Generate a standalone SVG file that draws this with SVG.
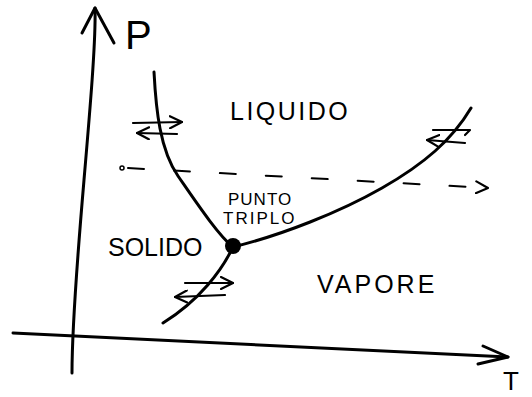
<svg xmlns="http://www.w3.org/2000/svg" width="532" height="397" viewBox="0 0 532 397">
<defs>
<style>
.ln{fill:none;stroke:#000;stroke-width:3;stroke-linecap:round;stroke-linejoin:round}
.th{fill:none;stroke:#000;stroke-width:2.2;stroke-linecap:round;stroke-linejoin:round}
.ds{fill:none;stroke:#000;stroke-width:2;stroke-dasharray:16 30;stroke-linecap:round}
.lb{font-family:"Liberation Sans",Arial,sans-serif;fill:#000}
</style>
<marker id="ah" viewBox="0 0 14 14" refX="13" refY="7" markerWidth="14" markerHeight="14" markerUnits="userSpaceOnUse" orient="auto">
<path d="M1,1 L13,7 L1,13" fill="none" stroke="#000" stroke-width="2.2" stroke-linecap="round" stroke-linejoin="round"/>
</marker>
</defs>
<rect width="532" height="397" fill="#fff"/>
<g id="axes">
<path class="ln" d="M72,373 C72,330 78,250 84,180 S96,40 95,8"/>
<path class="ln" d="M82,33 L95,8 L114,43"/>
<path class="ln" d="M13,333 C120,338 300,348 508,357"/>
<path class="ln" d="M483,346 L508,357 L478,364"/>
</g>
<g id="connectors">
<path id="fusion" class="ln" d="M154,72 C156,110 160,150 178,176 S218,235 233,247"/>
<path id="sublimation" class="ln" d="M233,247 C222,270 200,300 163,323"/>
<path id="vaporization" class="ln" d="M233,247 C282,235 340,212 382,188 S452,140 471,108"/>
<path id="isobar" class="ds" d="M128,168 L488,188" marker-end="url(#ah)"/>
<circle cx="122" cy="168" r="2" fill="none" stroke="#000" stroke-width="1.5"/>
</g>
<g id="eq-left">
<path class="th" d="M133,123 L182,122" marker-end="url(#ah)"/>
<path class="th" d="M177,134 L137,133" marker-end="url(#ah)"/>
</g>
<g id="eq-right">
<path class="th" d="M433,130 L470,130 L465,135"/>
<path class="th" d="M465,143 L427,140" marker-end="url(#ah)"/>
</g>
<g id="eq-bottom">
<path class="th" d="M185,283 L233,283" marker-end="url(#ah)"/>
<path class="th" d="M225,295 L175,297" marker-end="url(#ah)"/>
</g>
<g id="triple-point">
<circle cx="233" cy="246" r="8" fill="#000"/>
<text class="lb" x="228" y="205" font-size="17" letter-spacing="1">PUNTO</text>
<text class="lb" x="223" y="224" font-size="17" letter-spacing="2">TRIPLO</text>
</g>
<g id="labels">
<text class="lb" x="125" y="49" font-size="40">P</text>
<text class="lb" x="503" y="390" font-size="26">T</text>
<text class="lb" x="230" y="120" font-size="25" letter-spacing="2.5">LIQUIDO</text>
<text class="lb" x="108" y="256" font-size="25">SOLIDO</text>
<text class="lb" x="317" y="293" font-size="25" letter-spacing="3">VAPORE</text>
</g>
</svg>
